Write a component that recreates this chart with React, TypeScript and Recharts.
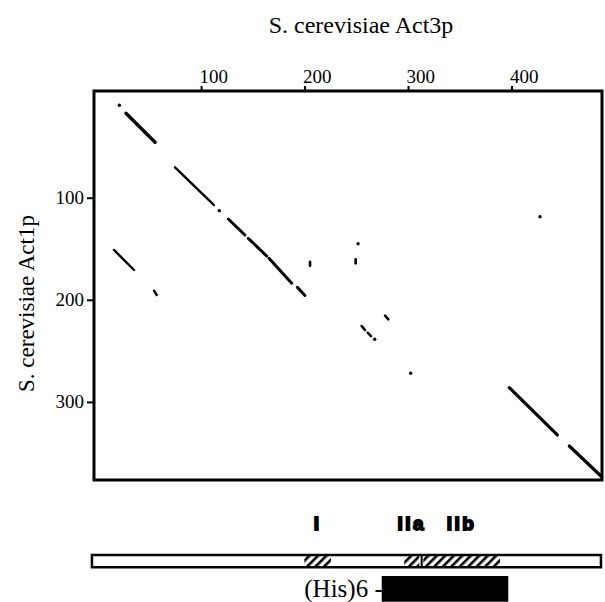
import { ScatterChart, ComposedChart, Scatter, XAxis, YAxis, ReferenceLine, ReferenceArea } from "recharts";

// residue numbers: x = Act3p, y = Act1p
const act3pTicks = [100, 200, 300, 400];
const act1pTicks = [100, 200, 300];
const act3pDomain = [-4, 487];
const act1pDomain = [-5, 376];

// matching stretches: [act3p start, act1p start, act3p end, act1p end, weight]
const matchSegments = [
  [26.9, 16.8, 55.0, 45.2, 3.4],
  [74.3, 69.7, 112.0, 106.7, 2.4],
  [125.8, 120.4, 141.9, 136.0, 3],
  [145.1, 139.3, 162.9, 156.6, 3],
  [165.1, 158.9, 187.1, 183.3, 3],
  [192.5, 187.3, 199.9, 195.3, 3],
  [15.3, 150.7, 34.7, 170.3, 2.4],
  [54.0, 190.6, 56.6, 194.8, 2.4],
  [277.3, 215.1, 280.5, 218.6, 2.6],
  [254.7, 225.2, 257.9, 229.1, 2.6],
  [260.5, 231.7, 263.7, 235.0, 2.6],
  [397.4, 285.6, 443.8, 331.9, 3.2],
  [455.4, 342.7, 486.7, 372.8, 3.2],
  [248.9, 159.8, 248.9, 163.8, 2.6],
  [204.8, 162.2, 204.8, 166.1, 2.6],
];

const matchDots = [
  { x: 20.5, y: 9.0 },
  { x: 117.1, y: 112.2 },
  { x: 251.2, y: 144.6 },
  { x: 267.3, y: 238.2 },
  { x: 302.1, y: 271.5 },
  { x: 427.1, y: 118.1 },
];

// Act3p domain map below the dot plot
const proteinSpan = [-6, 486];
const regionNames = ["I", "IIa", "IIb"];
const regionStarts = [199.3, 295.9, 314.3];
const regionEnds = [225.1, 310.4, 388.4];
const regionDivider = 312.7;
const hisTagSpan = [274.1, 396.4];

const serif = "'Liberation Serif', 'Times New Roman', serif";
const sans = "'Liberation Sans', Arial, sans-serif";

const TopTick = ({ x, y, payload }: any) => (
  <text x={x - 2} y={y} textAnchor="start" fontFamily={serif} fontSize={19} fill="#000">
    {payload.value}
  </text>
);

const LeftTick = ({ x, y, payload }: any) => (
  <text x={x} y={y} dy={6} textAnchor="end" fontFamily={serif} fontSize={19} fill="#000">
    {payload.value}
  </text>
);

export default function App() {
  return (
    <div style={{ position: "absolute", left: 0, top: 0, width: 605, height: 602, background: "#fff" }}>
      <ScatterChart width={605} height={490} margin={{ top: 61, right: 3, bottom: 10, left: 34 }}>
        <XAxis
          type="number"
          dataKey="x"
          orientation="top"
          height={30}
          domain={act3pDomain}
          ticks={act3pTicks}
          allowDataOverflow
          axisLine={false}
          tickSize={5}
          tickMargin={3}
          tickLine={{ stroke: "#000", strokeWidth: 2 }}
          tick={TopTick}
          label={{
            content: (p: any) => (
              <text x={p.viewBox.x + p.viewBox.width / 2 + 13} y={33} textAnchor="middle" fontFamily={serif} fontSize={24} fill="#000">
                S. cerevisiae Act3p
              </text>
            ),
          }}
        />
        <YAxis
          type="number"
          dataKey="y"
          reversed
          width={60}
          domain={act1pDomain}
          ticks={act1pTicks}
          allowDataOverflow
          axisLine={false}
          tickSize={7}
          tickMargin={3}
          tickLine={{ stroke: "#000", strokeWidth: 2 }}
          tick={LeftTick}
          label={{
            content: (p: any) => {
              const cx = p.viewBox.x - 8;
              const cy = p.viewBox.y + p.viewBox.height / 2 + 18;
              return (
                <text x={cx} y={cy} transform={`rotate(-90, ${cx}, ${cy})`} textAnchor="middle" dominantBaseline="central" fontFamily={serif} fontSize={23} fill="#000">
                  S. cerevisiae Act1p
                </text>
              );
            },
          }}
        />
        <ReferenceArea x1={act3pDomain[0]} x2={act3pDomain[1]} y1={act1pDomain[0]} y2={act1pDomain[1]} fill="none" stroke="#000" strokeWidth={3} />
        {matchSegments.map((s, i) => (
          <ReferenceLine
            key={i}
            segment={[{ x: s[0], y: s[1] }, { x: s[2], y: s[3] }]}
            stroke="#000"
            strokeWidth={s[4]}
            strokeLinecap="round"
          />
        ))}
        <Scatter
          data={matchDots}
          isAnimationActive={false}
          shape={(p: any) => <circle cx={p.cx} cy={p.cy} r={1.7} fill="#000" />}
        />
      </ScatterChart>

      <ComposedChart width={605} height={112} margin={{ top: 0, right: 3, bottom: 0, left: 94 }}>
        <defs>
          <pattern id="hatch" width="6" height="6" patternUnits="userSpaceOnUse" patternTransform="rotate(45)">
            <rect x="0" y="0" width="2.6" height="6" fill="#000" />
          </pattern>
        </defs>
        <XAxis type="number" dataKey="x" hide domain={act3pDomain} allowDataOverflow />
        <YAxis type="number" dataKey="y" hide reversed domain={[0, 10]} allowDataOverflow />
        <ReferenceArea x1={proteinSpan[0]} x2={proteinSpan[1]} y1={5.8} y2={6.9} fill="#fff" fillOpacity={1} ifOverflow="visible" />
        {regionNames.map((name, i) => (
          <ReferenceArea
            key={name}
            x1={regionStarts[i]}
            x2={regionEnds[i]}
            y1={5.8}
            y2={6.9}
            fill="url(#hatch)"
            fillOpacity={1}
            stroke="none"
            ifOverflow="visible"
            label={{
              content: (p: any) => (
                <text
                  x={p.viewBox.x + p.viewBox.width / 2}
                  y={p.viewBox.y - 25}
                  textAnchor="middle"
                  fontFamily={sans}
                  fontWeight={700}
                  fontSize={19}
                  letterSpacing={2.5}
                  stroke="#000"
                  strokeWidth={1.8}
                  fill="#000"
                >
                  {name}
                </text>
              ),
            }}
          />
        ))}
        <ReferenceLine segment={[{ x: regionDivider, y: 5.8 }, { x: regionDivider, y: 6.9 }]} stroke="#000" strokeWidth={2} ifOverflow="visible" />
        <ReferenceArea x1={proteinSpan[0]} x2={proteinSpan[1]} y1={5.8} y2={6.9} fill="none" stroke="#000" strokeWidth={2.5} ifOverflow="visible" />
        <ReferenceArea
          x1={hisTagSpan[0]}
          x2={hisTagSpan[1]}
          y1={7.68}
          y2={9.97}
          fill="#000"
          fillOpacity={1}
          stroke="none"
          ifOverflow="visible"
          label={{
            content: (p: any) => (
              <text x={p.viewBox.x + 1} y={p.viewBox.y + p.viewBox.height / 2 + 8} textAnchor="end" fontFamily={serif} fontSize={25} fill="#000">
                (His)6 -
              </text>
            ),
          }}
        />
      </ComposedChart>
    </div>
  );
}
